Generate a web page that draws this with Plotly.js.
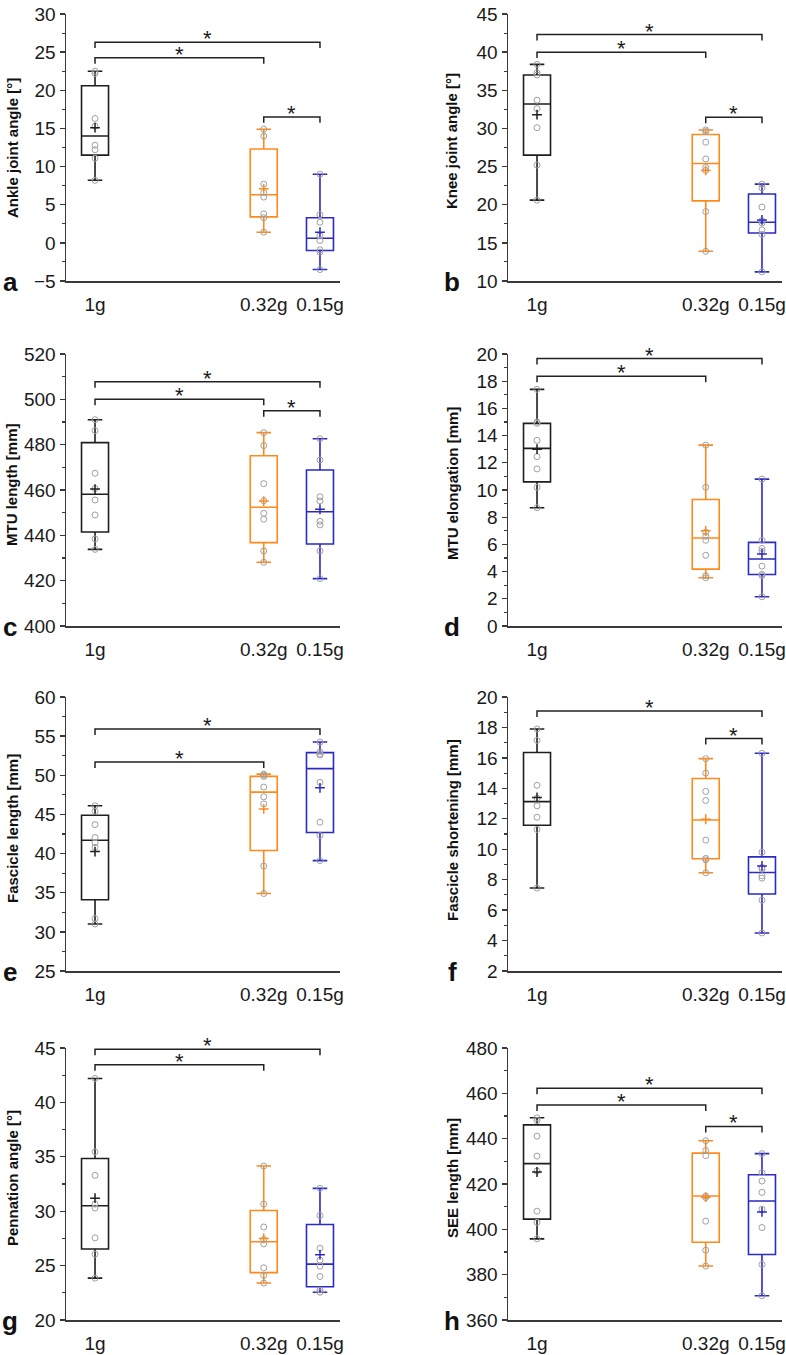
<!DOCTYPE html>
<html><head><meta charset="utf-8">
<script src="https://cdn.plot.ly/plotly-3.0.1.min.js"></script>
<style>html,body{margin:0;padding:0;background:#fff}#chart{width:786px;height:1355px}</style>
</head><body><div id="chart"></div>
<script>
// ---------- DATA ----------
const categories = ['1g', '0.32g', '0.15g'];

// (a) Ankle joint angle [°]
const ankle_1g   = [22.5, 22.2, 16.3, 15.3, 12.8, 12.2, 11.1, 8.2];
const ankle_032g = [14.9, 14.0, 7.7, 6.6, 6.0, 3.8, 3.3, 1.4];
const ankle_015g = [9.0, 3.7, 2.7, 0.9, 0.3, -0.9, -1.2, -3.5];
const ankle_q1     = [11.5, 3.4, -1.0];
const ankle_median = [14.0, 6.3, 0.6];
const ankle_q3     = [20.6, 12.3, 3.3];
const ankle_mean   = [15.1, 7.1, 1.4];
const ankle_sig    = [[0, 2, 26.3], [0, 1, 24.25], [1, 2, 16.5]];

// (b) Knee joint angle [°]
const knee_1g   = [38.4, 37.3, 37.0, 33.7, 32.6, 30.1, 25.2, 20.6];
const knee_032g = [29.8, 29.6, 28.2, 26.0, 24.9, 24.5, 19.1, 13.9];
const knee_015g = [22.7, 22.2, 19.7, 17.9, 17.6, 16.7, 16.1, 11.2];
const knee_q1     = [26.5, 20.5, 16.3];
const knee_median = [33.2, 25.4, 17.7];
const knee_q3     = [37.0, 29.2, 21.4];
const knee_mean   = [31.8, 24.5, 18.0];
const knee_sig    = [[0, 2, 42.3], [0, 1, 40.0], [1, 2, 31.45]];

// (c) MTU length [mm]
const mtuLen_1g   = [491.0, 486.2, 467.4, 460.6, 455.6, 449.0, 438.4, 433.8];
const mtuLen_032g = [485.3, 479.6, 462.8, 455.3, 449.7, 447.1, 433.1, 428.1];
const mtuLen_015g = [482.6, 473.2, 457.0, 455.2, 446.2, 444.6, 433.1, 420.9];
const mtuLen_q1     = [441.5, 436.8, 436.2];
const mtuLen_median = [458.1, 452.4, 450.4];
const mtuLen_q3     = [480.9, 475.1, 468.8];
const mtuLen_mean   = [460.4, 455.1, 451.5];
const mtuLen_sig    = [[0, 2, 507.8], [0, 1, 500.0], [1, 2, 495.0]];

// (d) MTU elongation [mm]
const mtuEl_1g   = [17.4, 15.0, 14.9, 13.65, 12.45, 11.55, 10.2, 8.7];
const mtuEl_032g = [13.3, 10.2, 6.9, 6.6, 6.3, 5.2, 3.7, 3.55];
const mtuEl_015g = [10.8, 6.3, 5.7, 5.5, 4.4, 3.8, 3.7, 2.15];
const mtuEl_q1     = [10.6, 4.18, 3.79];
const mtuEl_median = [13.06, 6.47, 4.93];
const mtuEl_q3     = [14.9, 9.3, 6.15];
const mtuEl_mean   = [13.0, 7.0, 5.3];
const mtuEl_sig    = [[0, 2, 19.66], [0, 1, 18.36]];

// (e) Fascicle length [mm]
const fasLen_1g   = [46.1, 45.4, 43.7, 42.05, 41.4, 40.8, 31.7, 31.0];
const fasLen_032g = [50.15, 50.0, 49.85, 48.5, 47.25, 46.35, 38.4, 34.9];
const fasLen_015g = [54.25, 53.0, 52.7, 52.6, 49.1, 44.0, 42.3, 39.1];
const fasLen_q1     = [34.1, 40.4, 42.7];
const fasLen_median = [41.7, 47.85, 50.85];
const fasLen_q3     = [44.9, 49.86, 52.9];
const fasLen_mean   = [40.25, 45.7, 48.4];
const fasLen_sig    = [[0, 2, 55.9], [0, 1, 51.7]];

// (f) Fascicle shortening [mm]
const fasSh_1g   = [17.9, 17.15, 14.2, 13.35, 12.85, 12.1, 11.3, 7.45];
const fasSh_032g = [15.95, 15.0, 13.8, 13.2, 10.6, 9.4, 9.3, 8.45];
const fasSh_015g = [16.3, 9.8, 8.8, 8.7, 8.25, 8.1, 6.65, 4.5];
const fasSh_q1     = [11.57, 9.37, 7.06];
const fasSh_median = [13.13, 11.92, 8.47];
const fasSh_q3     = [16.35, 14.65, 9.5];
const fasSh_mean   = [13.4, 11.97, 8.9];
const fasSh_sig    = [[0, 2, 19.08], [1, 2, 17.27]];

// (g) Pennation angle [°]
const penn_1g   = [42.2, 35.45, 33.3, 30.65, 30.3, 27.55, 26.05, 23.85];
const penn_032g = [34.15, 30.65, 28.55, 27.4, 27.0, 24.8, 24.1, 23.4];
const penn_015g = [32.1, 29.6, 26.6, 25.5, 24.95, 24.0, 22.75, 22.55];
const penn_q1     = [26.52, 24.35, 23.06];
const penn_median = [30.5, 27.19, 25.14];
const penn_q3     = [34.84, 30.07, 28.78];
const penn_mean   = [31.2, 27.5, 26.0];
const penn_sig    = [[0, 2, 44.88], [0, 1, 43.47]];

// (h) SEE length [mm]
const see_1g   = [449.2, 448.0, 441.1, 432.3, 425.7, 408.0, 403.1, 395.8];
const see_032g = [439.1, 434.8, 432.5, 414.7, 414.0, 403.6, 390.8, 383.8];
const see_015g = [433.4, 425.0, 421.3, 416.3, 408.9, 400.8, 384.5, 370.7];
const see_q1     = [404.5, 394.3, 388.9];
const see_median = [429.0, 414.7, 412.5];
const see_q3     = [446.1, 433.6, 424.1];
const see_mean   = [425.3, 414.2, 407.7];
const see_sig    = [[0, 2, 462.25], [0, 1, 454.9], [1, 2, 445.4]];

// ---------- LAYOUT / STYLE ----------
const W = 786, H = 1355, MT = 14, MB = 0;
const xPos = [1, 4, 5];               // horizontal placement of the three groups
const xRange = [0.484, 5.356];
const colors = ['#1e1e1e', '#ff8a1c', '#2a2ac4'];
const axisColor = '#3a3a3a';
const FONT = 'Arial, "Liberation Sans", Helvetica, sans-serif';
const colPx = [[66, 340], [508, 782]];
const rowPx = [[7, 281], [354, 626], [697, 971], [1048, 1320]];
const py = v => 1 - (v - MT) / (H - MT - MB);   // page pixel -> paper y
const px = v => v / W;

const panels = [
  {title: 'Ankle joint angle [°]', letter: 'a', range: [-5, 30], dtick: 5, groups: [ankle_1g, ankle_032g, ankle_015g], q1: ankle_q1, med: ankle_median, q3: ankle_q3, mean: ankle_mean, sig: ankle_sig, ty: 148},
  {title: 'Knee joint angle [°]', letter: 'b', range: [10, 45], dtick: 5, groups: [knee_1g, knee_032g, knee_015g], q1: knee_q1, med: knee_median, q3: knee_q3, mean: knee_mean, sig: knee_sig, ty: 141},
  {title: 'MTU length [mm]', letter: 'c', range: [400, 520], dtick: 20, groups: [mtuLen_1g, mtuLen_032g, mtuLen_015g], q1: mtuLen_q1, med: mtuLen_median, q3: mtuLen_q3, mean: mtuLen_mean, sig: mtuLen_sig, ty: 485},
  {title: 'MTU elongation [mm]', letter: 'd', range: [0, 20], dtick: 2, groups: [mtuEl_1g, mtuEl_032g, mtuEl_015g], q1: mtuEl_q1, med: mtuEl_median, q3: mtuEl_q3, mean: mtuEl_mean, sig: mtuEl_sig, ty: 484},
  {title: 'Fascicle length [mm]', letter: 'e', range: [25, 60], dtick: 5, groups: [fasLen_1g, fasLen_032g, fasLen_015g], q1: fasLen_q1, med: fasLen_median, q3: fasLen_q3, mean: fasLen_mean, sig: fasLen_sig, ty: 829},
  {title: 'Fascicle shortening [mm]', letter: 'f', range: [2, 20], dtick: 2, groups: [fasSh_1g, fasSh_032g, fasSh_015g], q1: fasSh_q1, med: fasSh_median, q3: fasSh_q3, mean: fasSh_mean, sig: fasSh_sig, ty: 830},
  {title: 'Pennation angle [°]', letter: 'g', range: [20, 45], dtick: 5, groups: [penn_1g, penn_032g, penn_015g], q1: penn_q1, med: penn_median, q3: penn_q3, mean: penn_mean, sig: penn_sig, ty: 1178},
  {title: 'SEE length [mm]', letter: 'h', range: [360, 480], dtick: 20, groups: [see_1g, see_032g, see_015g], q1: see_q1, med: see_median, q3: see_q3, mean: see_mean, sig: see_sig, ty: 1178}
];

const traces = [];
const layout = {
  width: W, height: H, margin: {l: 0, r: 0, t: MT, b: MB},
  paper_bgcolor: '#fff', plot_bgcolor: 'rgba(0,0,0,0)',
  showlegend: false, boxmode: 'overlay',
  font: {family: FONT, color: '#1a1a1a'},
  annotations: [], shapes: []
};

panels.forEach((p, i) => {
  const col = i % 2, row = Math.floor(i / 2);
  const xa = i === 0 ? 'x' : 'x' + (i + 1);
  const ya = i === 0 ? 'y' : 'y' + (i + 1);
  const xKey = i === 0 ? 'xaxis' : 'xaxis' + (i + 1);
  const yKey = i === 0 ? 'yaxis' : 'yaxis' + (i + 1);
  const [xl, xr] = colPx[col];
  const [yt, yb] = rowPx[row];
  layout[xKey] = {
    domain: [px(xl), px(xr)], anchor: ya, range: xRange,
    showline: true, linecolor: axisColor, linewidth: 1.5,
    showgrid: false, zeroline: false, ticks: '',
    tickmode: 'array', tickvals: xPos, ticktext: categories,
    tickfont: {size: 19, family: FONT, color: '#1a1a1a'},
    ticklabelstandoff: 6, ticklabeloverflow: 'allow', fixedrange: true
  };
  layout[yKey] = {
    domain: [py(yb), py(yt)], anchor: xa, range: p.range,
    showline: true, linecolor: axisColor, linewidth: 1.5,
    showgrid: false, zeroline: false,
    ticks: 'outside', ticklen: 5, tickwidth: 1.3, tickcolor: axisColor,
    tick0: p.range[0], dtick: p.dtick,
    minor: {ticks: 'outside', ticklen: 3, tickwidth: 1.1, tickcolor: axisColor, dtick: p.dtick / 2},
    tickfont: {size: 19, family: FONT, color: '#1a1a1a'},
    ticklabeloverflow: 'allow', fixedrange: true
  };

  // boxes
  p.groups.forEach((pts, g) => {
    traces.push({
      type: 'box', orientation: 'v', xaxis: xa, yaxis: ya,
      x: [xPos[g]], q1: [p.q1[g]], median: [p.med[g]], q3: [p.q3[g]],
      lowerfence: [Math.min(...pts)], upperfence: [Math.max(...pts)],
      width: 0.48, whiskerwidth: 0.54,
      line: {color: colors[g], width: 1.6},
      fillcolor: 'rgba(0,0,0,0)', boxpoints: false, hoverinfo: 'skip'
    });
  });
  // individual points
  p.groups.forEach((pts, g) => {
    traces.push({
      type: 'scatter', mode: 'markers', xaxis: xa, yaxis: ya,
      x: pts.map(() => xPos[g]), y: pts,
      marker: {symbol: 'circle-open', size: 6, color: '#a0a0a0', line: {width: 1}},
      hoverinfo: 'skip'
    });
  });
  // means
  traces.push({
    type: 'scatter', mode: 'markers', xaxis: xa, yaxis: ya,
    x: xPos, y: p.mean,
    marker: {symbol: 'cross-thin', size: 7, color: colors, line: {width: 1.5, color: colors}},
    hoverinfo: 'skip'
  });

  // significance brackets
  const drop = 6 * (p.range[1] - p.range[0]) / (yb - yt);
  p.sig.forEach(([a, b, lvl]) => {
    const xA = xPos[a], xB = xPos[b];
    layout.shapes.push({
      type: 'path', xref: xa, yref: ya,
      path: `M${xA},${lvl - drop} L${xA},${lvl} L${xB},${lvl} L${xB},${lvl - drop}`,
      line: {color: '#222', width: 1.5}
    });
    layout.annotations.push({
      xref: xa, yref: ya, x: (xA + xB) / 2, y: lvl, text: '*',
      showarrow: false, xanchor: 'center', yanchor: 'bottom', yshift: -11,
      font: {size: 22, family: FONT, color: '#1a1a1a'}
    });
  });

  // y-axis title
  const tx = col === 0 ? 12 : 452;
  layout.annotations.push({
    xref: 'paper', yref: 'paper', x: px(tx), y: py(p.ty),
    text: '<b>' + p.title + '</b>', textangle: -90, showarrow: false,
    xanchor: 'center', yanchor: 'middle',
    font: {size: 15, family: FONT, color: '#111'}
  });
  // panel letter
  const lx = col === 0 ? 10 : 452;
  layout.annotations.push({
    xref: 'paper', yref: 'paper', x: px(lx), y: py(yb + 1),
    text: '<b>' + p.letter + '</b>', showarrow: false,
    xanchor: 'center', yanchor: 'middle',
    font: {size: 26, family: FONT, color: '#111'}
  });
});

Plotly.newPlot('chart', traces, layout, {staticPlot: true, displayModeBar: false});
</script>
</body></html>
